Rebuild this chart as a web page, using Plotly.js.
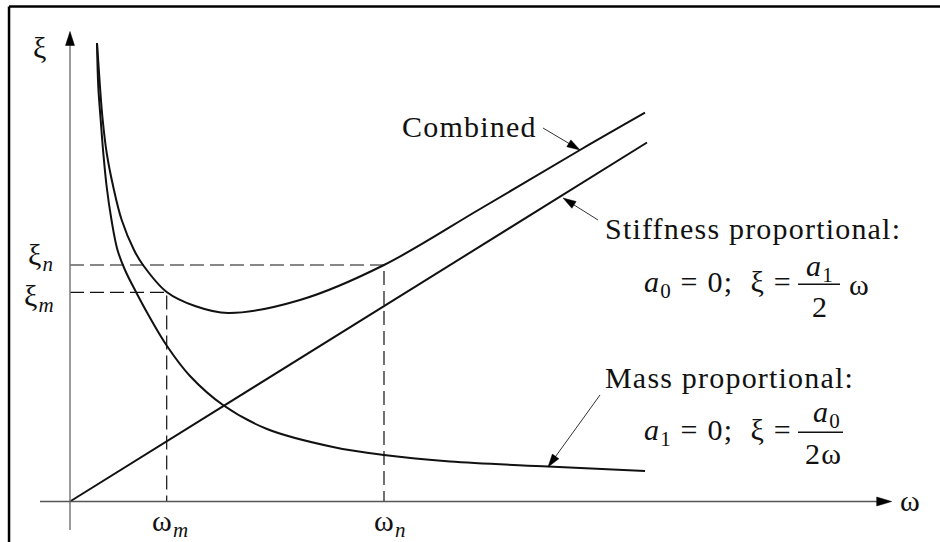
<!DOCTYPE html>
<html>
<head>
<meta charset="utf-8">
<script src="https://cdn.plot.ly/plotly-3.0.1.min.js"></script>
<style>
html,body{margin:0;padding:0;background:#fff;}
#chart{width:940px;height:542px;}
.annotation-text{letter-spacing:1.2px;}
</style>
</head>
<body>
<div id="chart"></div>
<script>
// ---- data (ω and ξ in arbitrary units) ----
const omegaMass = [0.27, 0.283, 0.307, 0.333, 0.367, 0.415, 0.475, 0.55, 0.66, 0.79, 0.97, 1.20, 1.53, 1.97, 2.63, 3.14, 3.80, 4.78, 5.75];
const xiMass    = [4.585, 4.145, 3.815, 3.485, 3.145, 2.815, 2.515, 2.315, 2.095, 1.855, 1.555, 1.255, 0.965, 0.725, 0.545, 0.465, 0.40, 0.35, 0.305];

const omegaComb = [0.27, 0.30, 0.327, 0.367, 0.433, 0.517, 0.64, 0.73, 0.967, 1.25, 1.58, 2.30, 3.14, 4.10, 5.10, 5.75];
const xiComb    = [4.585, 4.145, 3.815, 3.485, 3.145, 2.815, 2.515, 2.365, 2.095, 1.955, 1.885, 2.015, 2.365, 2.925, 3.515, 3.888];

const omegaStiff = [0, 5.77];
const xiStiff    = [0, 3.59];

const omegaMarks = [0.967, 3.14];   // ω_m, ω_n
const xiMarks    = [2.092, 2.365];  // ξ_m, ξ_n

const tickLabelsX = ['ω<sub><i>m</i></sub>', 'ω<sub><i>n</i></sub>'];
const tickLabelsY = ['ξ<sub><i>m</i></sub>', 'ξ<sub><i>n</i></sub>'];

// ---- styling ----
const FONT = '"Liberation Serif", "Times New Roman", Times, serif';
const INK = '#111111';

const curve = (x, y) => ({x, y, type:'scatter', mode:'lines', hoverinfo:'skip',
  line:{color:INK, width:2, shape:'spline', smoothing:1}});

const traces = [];
// dashed guide lines
for (let i = 0; i < 2; i++) {
  traces.push({x:[0, omegaMarks[i], omegaMarks[i]], y:[xiMarks[i], xiMarks[i], 0],
    type:'scatter', mode:'lines', hoverinfo:'skip',
    line:{color:INK, width:1.2, dash:'14px,6px'}});
}
traces.push({x:omegaStiff, y:xiStiff, type:'scatter', mode:'lines', hoverinfo:'skip', line:{color:INK, width:2}});
traces.push(curve(omegaMass, xiMass));
traces.push(curve(omegaComb, xiComb));

// arrow helper: line + filled triangle head (pixel-sized)
const PX = 100; // pixels per data unit (both axes)
function arrow(tail, tip, L, W, lineColor, lineWidth, headColor) {
  const dx = (tip[0]-tail[0]), dy = (tip[1]-tail[1]);
  const len = Math.hypot(dx, dy);
  const ux = dx/len, uy = dy/len;
  const nx = -uy, ny = ux;
  const bx = -L*ux, by = -L*uy;
  const p1 = [bx + nx*W/2, by + ny*W/2], p2 = [bx - nx*W/2, by - ny*W/2];
  const baseData = [tip[0] + bx/PX*0.8, tip[1] + by/PX*0.8];
  return [
    {type:'line', xref:'x', yref:'y', x0:tail[0], y0:tail[1], x1:baseData[0], y1:baseData[1],
     line:{color:lineColor, width:lineWidth}},
    {type:'path', xref:'x', yref:'y', xsizemode:'pixel', ysizemode:'pixel',
     xanchor:tip[0], yanchor:tip[1],
     path:`M0,0 L${p1[0].toFixed(2)},${p1[1].toFixed(2)} L${p2[0].toFixed(2)},${p2[1].toFixed(2)} Z`,
     fillcolor:headColor, line:{color:headColor, width:0.5}}
  ];
}

const shapes = [];
// frame (top and left edges)
shapes.push({type:'line', xref:'paper', yref:'paper', x0:0.0096, x1:1, y0:0.9878, y1:0.9878, line:{color:'#000', width:2.5}});
shapes.push({type:'line', xref:'paper', yref:'paper', x0:0.0096, x1:0.0096, y0:0, y1:0.9878, line:{color:'#000', width:2.5}});
// axes
shapes.push(...arrow([0, -0.285], [0, 4.70], 14, 9, '#7a7a7a', 1.5, '#000'));
shapes.push(...arrow([-0.30, 0], [8.217, 0], 15, 9, '#555555', 1.3, '#000'));
// leaders
shapes.push(...arrow([4.73, 3.735], [5.10, 3.515], 13, 8, '#333', 1, '#000'));
shapes.push(...arrow([5.28, 2.815], [4.93, 3.035], 13, 8, '#333', 1, '#000'));
shapes.push(...arrow([5.30, 1.065], [4.78, 0.345], 13, 8, '#333', 1, '#000'));
// fraction bars
shapes.push({type:'line', xref:'x', yref:'y', x0:7.28, x1:7.70, y0:2.172, y1:2.172, line:{color:INK, width:1.5}});
shapes.push({type:'line', xref:'x', yref:'y', x0:7.28, x1:7.73, y0:0.692, y1:0.692, line:{color:INK, width:1.5}});

const txt = (text, x, y, xanchor, size) => ({text, x, y, xref:'x', yref:'y', xanchor, yanchor:'middle',
  showarrow:false, font:{family:FONT, size:size || 30, color:INK}});

const annotations = [
  txt('ξ', -0.30, 4.545, 'center', 30),
  txt(tickLabelsY[1], -0.14, 2.45, 'right', 30),
  txt(tickLabelsY[0], -0.13, 2.04, 'right', 30),
  txt(tickLabelsX[0], omegaMarks[0] + 0.04, -0.215, 'center', 30),
  txt(tickLabelsX[1], omegaMarks[1] + 0.06, -0.215, 'center', 30),
  txt('ω', 8.40, 0.015, 'center', 30),
  txt('Combined', 3.30, 3.755, 'left'),
  txt('Stiffness proportional:', 5.33, 2.735, 'left'),
  txt('Mass proportional:', 5.33, 1.245, 'left'),
  txt('<i>a</i><sub>0</sub> = 0;  ξ =', 7.24, 2.175, 'right'),
  txt('<i>a</i><sub>1</sub>', 7.50, 2.335, 'center'),
  txt('2', 7.50, 1.955, 'center'),
  txt('ω', 7.89, 2.175, 'center'),
  txt('<i>a</i><sub>1</sub> = 0;  ξ =', 7.24, 0.695, 'right'),
  txt('<i>a</i><sub>0</sub>', 7.57, 0.875, 'center'),
  txt('2ω', 7.53, 0.485, 'center')
];

const layout = {
  width:940, height:542,
  margin:{l:0, r:0, t:0, b:0, pad:0},
  paper_bgcolor:'#fff', plot_bgcolor:'#fff',
  showlegend:false,
  xaxis:{range:[-0.7, 8.7], visible:false, fixedrange:true},
  yaxis:{range:[-0.405, 5.015], visible:false, fixedrange:true},
  shapes, annotations
};

Plotly.newPlot('chart', traces, layout, {staticPlot:true, displayModeBar:false});
</script>
</body>
</html>
